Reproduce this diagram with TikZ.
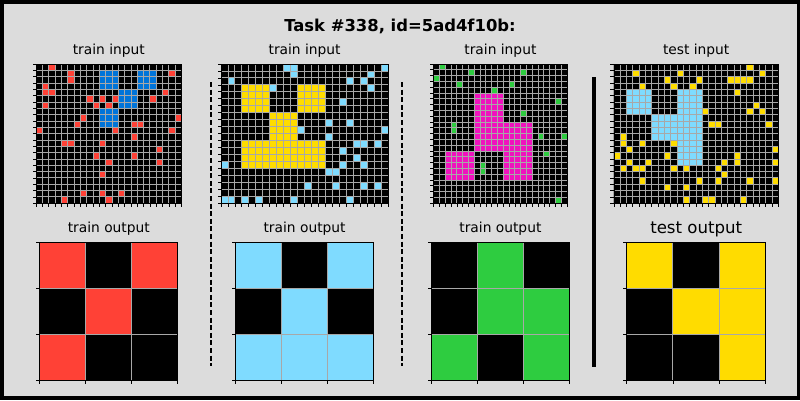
\documentclass[tikz,border=0pt]{standalone}
\usepackage{fontspec}
\setmainfont{DejaVu Sans}
\definecolor{arcred}{HTML}{FF4136}
\definecolor{arcblue}{HTML}{0074D9}
\definecolor{arcsky}{HTML}{7FDBFF}
\definecolor{arcyellow}{HTML}{FFDC00}
\definecolor{arcgreen}{HTML}{2ECC40}
\definecolor{arcpink}{HTML}{F012BE}
\definecolor{panel}{HTML}{DCDCDC}
\definecolor{cellline}{HTML}{A8A8A8}

\begin{document}
\begin{tikzpicture}
[x=1bp,y=-1bp,
 lbl/.style={font=\fontsize{13.8bp}{16bp}\selectfont,inner sep=0pt},
 gl/.style={cellline,line width=0.9bp},
 tick/.style={line width=0.8bp}]
\useasboundingbox (0,0) rectangle (800,400);
\fill (0,0) rectangle (800,400);
\fill[panel] (3.5,4) rectangle (796.5,396);

\node[font=\bfseries\fontsize{16.4bp}{19bp}\selectfont] (title) at (400,26) {Task \#338, id=5ad4f10b:};
\node[lbl] (in1) at (108.8,51) {train input};
\node[lbl] (in2) at (304.6,51) {train input};
\node[lbl] (in3) at (500.4,51) {train input};
\node[lbl] (in4) at (696.2,51) {test input};
\node[lbl] (out1) at (108.8,229) {train output};
\node[lbl] (out2) at (304.6,229) {train output};
\node[lbl] (out3) at (500.4,229) {train output};
\node[lbl,font=\fontsize{16.6bp}{19bp}\selectfont] (out4) at (696.2,229) {test output};

% train 1
\begin{scope}[shift={(36,64)},x=6.33bp,y=-6.33bp]
\fill (0,0) rectangle (23,22);
\foreach \a/\b in {10/1,16/1,13/4,10/7}
  \fill[arcblue] (\a,\b) rectangle ++(3,3);
\foreach \a/\b in {2/0,5/1,5/2,21/1,1/3,1/4,2/4,20/4,8/5,10/5,12/5,18/5,1/6,9/6,11/6,7/8,22/8,6/9,15/9,16/9,0/10,12/10,21/10,15/11,4/12,5/12,10/12,19/13,9/14,15/14,11/15,19/15,10/17,7/20,10/20,13/20,4/21,11/21}
  \fill[arcred] (\a,\b) rectangle ++(1,1);
\end{scope}
\begin{scope}[shift={(39.4,242.3)},x=46.13bp,y=-46.13bp]
\fill (0,0) rectangle (3,3);
\foreach \a/\b in {0/0,2/0,1/1,0/2}
  \fill[arcred] (\a,\b) rectangle ++(1,1);
\end{scope}

% train 2
\begin{scope}[shift={(221,64)},x=6.965bp,y=-6.965bp]
\fill (0,0) rectangle (24,20);
\fill[arcyellow] (3,3) rectangle (7,7) (11,3) rectangle (15,7) (7,7) rectangle (11,11) (3,11) rectangle (15,15);
\foreach \a/\b in {9/0,10/0,10/1,23/0,21/1,1/2,18/2,20/2,7/3,21/3,17/5,15/8,18/8,11/9,23/9,15/10,19/11,20/11,22/11,17/12,19/13,0/14,17/14,20/14,15/15,16/15,12/17,16/17,20/17,22/17,0/19,1/19,3/19,5/19,10/19,18/19}
  \fill[arcsky] (\a,\b) rectangle ++(1,1);
\end{scope}
\begin{scope}[shift={(235.2,242.3)},x=46.13bp,y=-46.13bp]
\fill (0,0) rectangle (3,3);
\foreach \a/\b in {0/0,2/0,1/1,0/2,1/2,2/2}
  \fill[arcsky] (\a,\b) rectangle ++(1,1);
\end{scope}

% train 3
\begin{scope}[shift={(433.7,64)},x=5.80bp,y=-5.80bp]
\fill (0,0) rectangle (23,24);
\fill[arcpink] (7,5) rectangle (12,10) (7,10) rectangle (17,15) (2,15) rectangle (7,20) (12,15) rectangle (17,20);
\foreach \a/\b in {1/0,6/1,15/1,0/2,4/3,13/3,10/4,21/6,15/8,3/10,3/11,18/12,22/12,19/15,8/17,8/18,21/23}
  \fill[arcgreen] (\a,\b) rectangle ++(1,1);
\end{scope}
\begin{scope}[shift={(431,242.3)},x=46.13bp,y=-46.13bp]
\fill (0,0) rectangle (3,3);
\foreach \a/\b in {1/0,1/1,2/1,0/2,2/2}
  \fill[arcgreen] (\a,\b) rectangle ++(1,1);
\end{scope}

% test
\begin{scope}[shift={(613.9,64)},x=6.33bp,y=-6.33bp]
\fill (0,0) rectangle (26,22);
\fill[arcsky] (2,4) rectangle (6,8) (6,8) rectangle (10,12) (10,4) rectangle (14,16);
\foreach \a/\b in {21/0,3/1,10/1,23/1,8/2,13/2,18/2,19/2,20/2,21/2,4/3,9/3,12/3,19/4,22/6,14/7,21/7,23/7,15/9,16/9,24/9,1/11,1/12,4/12,9/12,2/13,25/13,0/14,8/14,19/14,2/15,5/15,17/15,19/15,25/15,1/16,3/16,4/16,9/16,11/16,16/16,17/17,4/18,13/18,16/18,21/18,25/18,8/19,11/19,11/21,14/21,15/21,20/21}
  \fill[arcyellow] (\a,\b) rectangle ++(1,1);
\end{scope}
\begin{scope}[shift={(626.8,242.3)},x=46.13bp,y=-46.13bp]
\fill (0,0) rectangle (3,3);
\foreach \a/\b in {0/0,2/0,1/1,2/1,2/2}
  \fill[arcyellow] (\a,\b) rectangle ++(1,1);
\end{scope}

% cell lines, frames and ticks
\foreach \ox/\oy/\sz/\nc/\nr in {36/64/6.33/23/22,221/64/6.965/24/20,433.7/64/5.80/23/24,613.9/64/6.33/26/22,39.4/242.3/46.13/3/3,235.2/242.3/46.13/3/3,431/242.3/46.13/3/3,626.8/242.3/46.13/3/3}{
  \begin{scope}[shift={(\ox,\oy)},x=\sz bp,y=-\sz bp]
  \foreach \i in {0,...,\nc} \draw[gl] (\i,0) -- (\i,\nr);
  \foreach \i in {0,...,\nr} \draw[gl] (0,\i) -- (\nc,\i);
  \draw[line width=0.8bp] (0,0) rectangle (\nc,\nr);
  \foreach \i in {0,...,\nc} \draw[tick] (\i,\nr) -- ++(0bp,-3.5bp);
  \foreach \i in {0,...,\nr} \draw[tick] (0,\i) -- ++(-3.5bp,0bp);
  \end{scope}
}

% separators
\draw[line width=1.2bp,dash pattern=on 5bp off 2.6bp] (211,82) -- (211,366);
\draw[line width=1.2bp,dash pattern=on 5bp off 2.6bp] (402,82) -- (402,366);
\draw[line width=3.6bp] (593.7,77) -- (593.7,367);
\end{tikzpicture}
\end{document}
